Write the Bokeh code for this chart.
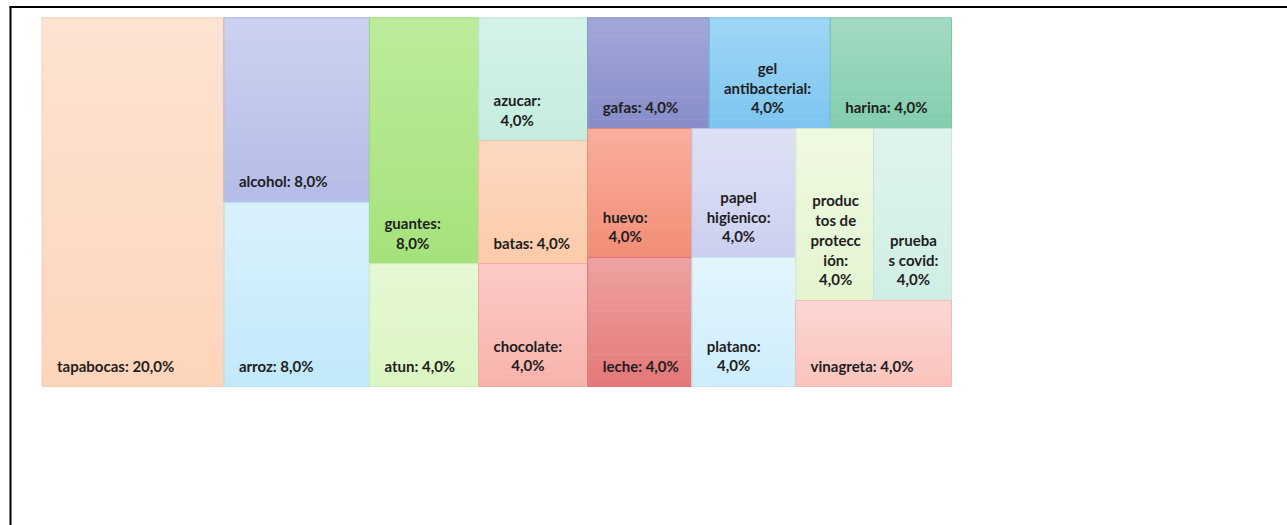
from bokeh.plotting import figure
from bokeh.models import Range1d, ColumnDataSource
from bokeh.core.properties import value
from bokeh.embed import file_html
from bokeh.resources import INLINE

# ---- data (layout order, as drawn by the treemap) ----
categories = ["tapabocas", "alcohol", "arroz", "guantes", "atun", "azucar", "batas",
              "chocolate", "gafas", "gel antibacterial", "harina", "huevo", "leche",
              "papel higienico", "platano", "productos de protección", "pruebas covid",
              "vinagreta"]
counts = [5, 2, 2, 2, 1, 1, 1, 1, 1, 1, 1, 1, 1, 1, 1, 1, 1, 1]
# label text as it is wrapped in the picture
labels = ["tapabocas: 20,0%", "alcohol: 8,0%", "arroz: 8,0%", "guantes:\n8,0%",
          "atun: 4,0%", "azucar:\n4,0%", "batas: 4,0%", "chocolate:\n4,0%",
          "gafas: 4,0%", "gel\nantibacterial:\n4,0%", "harina: 4,0%", "huevo:\n4,0%",
          "leche: 4,0%", "papel\nhigienico:\n4,0%", "platano:\n4,0%",
          "produc\ntos de\nprotecc\nión:\n4,0%", "prueba\ns covid:\n4,0%",
          "vinagreta: 4,0%"]
# number of tiles in each squarified strip
strips = [1, 2, 2, 3, 3, 2, 2, 2, 1]

# ---- styles ----
top_colors = ["#FDE3D3", "#CCD2EF", "#D9F1FC", "#BCEC9C", "#E6F8D4", "#D4F2E9", "#FDD9C1",
              "#FBCBC7", "#A3A8D9", "#A0D6F5", "#A4DAC4", "#F9AF9C", "#EFA2A2", "#DEE1F5",
              "#E3F5FD", "#EFF9E2", "#DEF4ED", "#FCD7D3"]
bot_colors = ["#FDD5BA", "#B4BCE7", "#C2E9FA", "#A6E27A", "#DBF5C2", "#C5ECDF", "#FCCBAA",
              "#F8B2AC", "#868CC8", "#7BC5F0", "#83CDAE", "#F28D76", "#E47878", "#CBD0EF",
              "#CDEDFB", "#E4F5D0", "#D0EEE4", "#FAC3BD"]

FIG_W, FIG_H = 1287, 525
X0, Y0, TW, TH = 41.5, 17.3, 909.5, 368.7   # treemap area, px


def squarify_strips(vals, strip_sizes, x, y, w, h):
    scale = w * h / float(sum(vals))
    rects = []
    i = 0
    for n in strip_sizes:
        grp = vals[i:i + n]
        area = sum(grp) * scale
        if w >= h:
            cw = area / h
            yy = y
            for v in grp:
                hh = v * scale / cw
                rects.append((x, yy, x + cw, yy + hh))
                yy += hh
            x += cw
            w -= cw
        else:
            rh = area / w
            xx = x
            for v in grp:
                ww = v * scale / rh
                rects.append((xx, y, xx + ww, y + rh))
                xx += ww
            y += rh
            h -= rh
        i += n
    return rects


def hex2rgb(c):
    c = c.lstrip("#")
    return tuple(int(c[k:k + 2], 16) for k in (0, 2, 4))


def mix(c1, c2, t):
    a, b = hex2rgb(c1), hex2rgb(c2)
    return "#%02x%02x%02x" % tuple(int(round(a[k] + (b[k] - a[k]) * t)) for k in range(3))


rects = squarify_strips(counts, strips, X0, Y0, TW, TH)

p = figure(width=FIG_W, height=FIG_H, output_backend="svg", toolbar_location=None,
           x_range=Range1d(0, FIG_W), y_range=Range1d(FIG_H, 0),
           min_border=0, outline_line_color=None)
p.axis.visible = False
p.grid.visible = False
p.background_fill_color = "white"
p.border_fill_color = "white"

# gradient bands
NB = 24
bl, br, bt, bb, bc = [], [], [], [], []
for (l, t, r, b), c1, c2 in zip(rects, top_colors, bot_colors):
    for k in range(NB):
        bl.append(l)
        br.append(r)
        bt.append(t + (b - t) * k / NB)
        bb.append(min(b, t + (b - t) * (k + 1) / NB + 0.6))
        bc.append(mix(c1, c2, (k + 0.5) / NB))
p.quad(left=bl, right=br, top=bt, bottom=bb, fill_color=bc, line_color=None)

# tile outlines
src = ColumnDataSource(dict(
    left=[r[0] for r in rects], top=[r[1] for r in rects],
    right=[r[2] for r in rects], bottom=[r[3] for r in rects],
    line=[mix(c, "#000000", 0.04) for c in bot_colors],
    tx=[r[0] + 15 for r in rects], ty=[r[3] - 12 for r in rects],
    label=labels, name=categories))
p.quad(left="left", right="right", top="top", bottom="bottom", source=src,
       fill_color=None, line_color="line", line_width=1)

p.text(x="tx", y="ty", text="label", source=src, anchor="bottom_left",
       text_align="center", text_baseline="bottom",
       text_font=value("Lato"), text_font_style="bold", text_font_size="15px",
       text_line_height=1.1, text_color="#1e1e1e")

# chart-area frame (top and left edges visible)
p.segment(x0=[9, 10], y0=[6.5, 6], x1=[FIG_W, 10], y1=[6.5, FIG_H],
          line_color="black", line_width=2)

open("out.html", "w").write(file_html(p, INLINE))
